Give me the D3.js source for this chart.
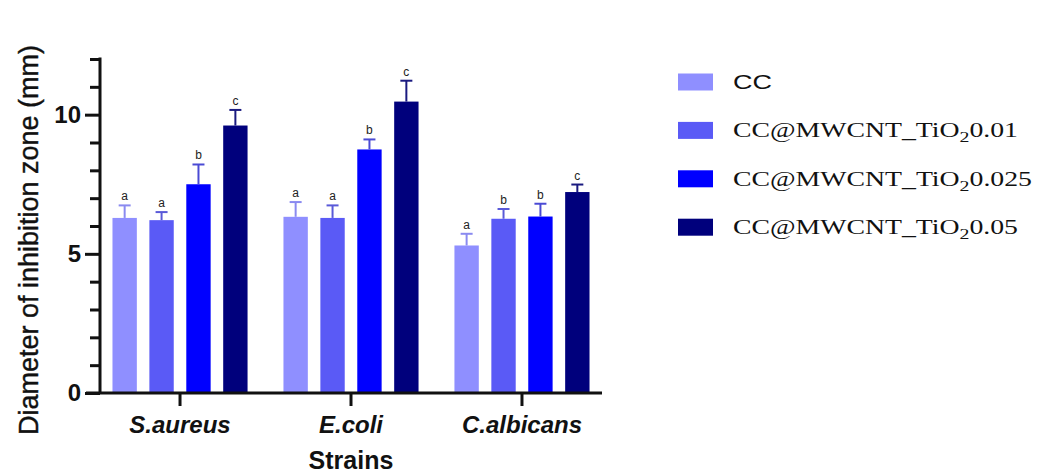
<!DOCTYPE html>
<html>
<head>
<meta charset="utf-8">
<script src="https://cdn.jsdelivr.net/npm/d3@7"></script>
<style>
  html, body { margin: 0; padding: 0; background: #fff; }
  svg { display: block; }
</style>
</head>
<body>
<svg id="chart" width="1051" height="475"></svg>
<script>
// data
const strains = ['S.aureus', 'E.coli', 'C.albicans'];
const series = ['CC', '0.01', '0.025', '0.05'];
const means = [
  [6.29, 6.21, 7.50, 9.61],   // S.aureus
  [6.33, 6.29, 8.75, 10.47],  // E.coli
  [5.30, 6.26, 6.34, 7.22]    // C.albicans
];
const sds = [
  [0.45, 0.29, 0.71, 0.56],
  [0.53, 0.45, 0.36, 0.75],
  [0.42, 0.35, 0.46, 0.27]
];
const letters = [
  ['a', 'a', 'b', 'c'],
  ['a', 'a', 'b', 'c'],
  ['a', 'b', 'b', 'c']
];
const majorTicks = [0, 5, 10];
const minorTicks = [1, 2, 3, 4, 6, 7, 8, 9, 11, 12];

const fills = ['#8f8fff', '#5a5af6', '#0000ff', '#00007c'];
const errCols = ['#8a8af0', '#5a5ad8', '#4a4ad4', '#1a1a80'];

const sans = '"Liberation Sans", Arial, sans-serif';
const serif = '"Liberation Serif", "Times New Roman", serif';

const svg = d3.select('#chart');

// plot area
const pLeft = 100, pRight = 602, pTop = 59, pBottom = 393;

const x0 = d3.scaleBand()
  .domain(strains)
  .range([pLeft, pRight])
  .paddingInner(0.21)
  .paddingOuter(0.073);

const x1 = d3.scaleBand()
  .domain(series)
  .range([0, x0.bandwidth()])
  .paddingInner(0.34);

const y = d3.scaleLinear()
  .domain([0, 12])
  .range([pBottom, pTop]);

// flatten for drawing
const rows = [];
strains.forEach((s, i) => series.forEach((k, j) => {
  rows.push({ s, k, j, v: means[i][j], sd: sds[i][j], lab: letters[i][j] });
}));

// bars
svg.append('g').selectAll('rect')
  .data(rows)
  .enter().append('rect')
  .attr('x', d => x0(d.s) + x1(d.k))
  .attr('y', d => y(d.v))
  .attr('width', x1.bandwidth())
  .attr('height', d => y(0) - y(d.v))
  .attr('fill', d => fills[d.j]);

// error bars (upper only)
const eb = svg.append('g').selectAll('g')
  .data(rows)
  .enter().append('g')
  .attr('stroke', d => errCols[d.j])
  .attr('stroke-width', 2);

eb.append('line')
  .attr('x1', d => x0(d.s) + x1(d.k) + x1.bandwidth() / 2)
  .attr('x2', d => x0(d.s) + x1(d.k) + x1.bandwidth() / 2)
  .attr('y1', d => y(d.v))
  .attr('y2', d => y(d.v + d.sd));

eb.append('line')
  .attr('x1', d => x0(d.s) + x1(d.k) + x1.bandwidth() / 2 - 6)
  .attr('x2', d => x0(d.s) + x1(d.k) + x1.bandwidth() / 2 + 6)
  .attr('y1', d => y(d.v + d.sd))
  .attr('y2', d => y(d.v + d.sd));

// significance letters
svg.append('g').selectAll('text')
  .data(rows)
  .enter().append('text')
  .attr('x', d => x0(d.s) + x1(d.k) + x1.bandwidth() / 2)
  .attr('y', d => y(d.v + d.sd) - 5)
  .attr('text-anchor', 'middle')
  .attr('font-family', sans)
  .attr('font-size', 12)
  .attr('fill', '#222')
  .text(d => d.lab);

// y axis: major ticks with labels
const yMaj = svg.append('g')
  .attr('transform', `translate(${pLeft},0)`)
  .call(d3.axisLeft(y).tickValues(majorTicks).tickSize(15).tickSizeOuter(0).tickPadding(4));
yMaj.select('.domain').attr('stroke', '#111').attr('stroke-width', 3)
  .attr('d', `M0,${y(12) - 1.5}V${pBottom}`);
yMaj.selectAll('.tick line').attr('stroke', '#111').attr('stroke-width', 3);
yMaj.selectAll('.tick text')
  .attr('font-family', sans)
  .attr('font-weight', 'bold')
  .attr('font-size', 24)
  .attr('fill', '#111');

// y axis: minor ticks
const yMin = svg.append('g')
  .attr('transform', `translate(${pLeft},0)`)
  .call(d3.axisLeft(y).tickValues(minorTicks).tickSize(10).tickFormat(''));
yMin.select('.domain').remove();
yMin.selectAll('.tick line').attr('stroke', '#111').attr('stroke-width', 3);

// x axis
const xAx = svg.append('g')
  .attr('transform', `translate(0,${pBottom})`)
  .call(d3.axisBottom(x0).tickSize(13).tickSizeOuter(0).tickPadding(10));
xAx.select('.domain').attr('stroke', '#111').attr('stroke-width', 3)
  .attr('d', `M${pLeft - 14},0H${pRight}`);
xAx.selectAll('.tick line').attr('stroke', '#111').attr('stroke-width', 3);
xAx.selectAll('.tick text')
  .attr('font-family', sans)
  .attr('font-weight', 'bold')
  .attr('font-style', 'italic')
  .attr('font-size', 24)
  .attr('fill', '#111');

// axis titles
svg.append('text')
  .attr('transform', `translate(38,240) rotate(-90)`)
  .attr('text-anchor', 'middle')
  .attr('font-family', sans)
  .attr('font-size', 27)
  .attr('fill', '#111')
  .attr('stroke', '#111')
  .attr('stroke-width', 0.4)
  .text('Diameter of inhibition zone (mm)');

svg.append('text')
  .attr('x', (pLeft + pRight) / 2)
  .attr('y', 469)
  .attr('text-anchor', 'middle')
  .attr('font-family', sans)
  .attr('font-weight', 'bold')
  .attr('font-size', 25)
  .attr('fill', '#111')
  .text('Strains');

// legend
const legend = svg.append('g').attr('transform', 'translate(678,82)');
const item = legend.selectAll('g')
  .data(series)
  .enter().append('g')
  .attr('transform', (d, i) => `translate(0,${i * 48.4})`);

item.append('rect')
  .attr('x', 0)
  .attr('y', -8.5)
  .attr('width', 35)
  .attr('height', 17)
  .attr('fill', (d, i) => fills[i]);

item.filter(d => d === 'CC').append('text')
  .attr('x', 55)
  .attr('y', 7)
  .attr('font-family', sans)
  .attr('font-size', 21)
  .attr('textLength', 39)
  .attr('lengthAdjust', 'spacingAndGlyphs')
  .attr('fill', '#111')
  .text('CC');

const tl = item.filter(d => d !== 'CC').append('text')
  .attr('x', 55)
  .attr('y', 7)
  .attr('font-family', serif)
  .attr('font-size', 21)
  .attr('textLength', d => d === '0.025' ? 299 : 285)
  .attr('lengthAdjust', 'spacingAndGlyphs')
  .attr('fill', '#111');
tl.append('tspan').text('CC@MWCNT_TiO');
tl.append('tspan').attr('dy', 5).attr('font-size', 15).text('2');
tl.append('tspan').attr('dy', -5).text(d => d);
</script>
</body>
</html>
